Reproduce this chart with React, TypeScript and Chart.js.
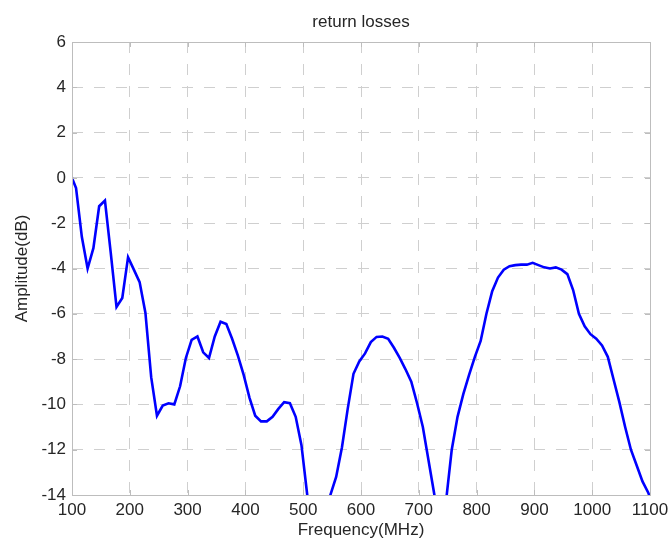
import React, { useEffect, useRef } from "react";
import { Chart, registerables } from "chart.js";

Chart.register(...registerables);

// Sweep frequencies (MHz) and measured return loss (dB)
const frequencies = [
  100, 107, 117, 127, 137, 147, 157, 167, 177, 187, 197, 207, 217, 227, 237, 247, 257, 267, 277, 287,
  297, 307, 317, 327, 337, 347, 357, 367, 377, 387, 397, 407, 417, 427, 437, 447, 457, 467, 477, 487,
  497, 507, 517, 527, 537, 547, 557, 567, 577, 587, 597, 607, 617, 627, 637, 647, 657, 667, 677, 687,
  697, 707, 717, 727, 737, 747, 757, 767, 777, 787, 797, 807, 817, 827, 837, 847, 857, 867, 877, 887,
  897, 907, 917, 927, 937, 947, 957, 967, 977, 987, 997, 1007, 1017, 1027, 1037, 1047, 1057, 1067, 1077, 1087,
  1097, 1100,
];

const amplitude = [
  0, -0.45, -2.6, -4.0, -3.1, -1.25, -1.0, -3.3, -5.7, -5.3,
  -3.5, -4.05, -4.6, -5.95, -8.8, -10.5, -10.05, -9.95, -10.0, -9.2,
  -7.95, -7.15, -7.0, -7.7, -7.95, -7.0, -6.35, -6.45, -7.1, -7.85,
  -8.7, -9.7, -10.5, -10.75, -10.75, -10.55, -10.2, -9.9, -9.95, -10.55,
  -11.8, -14.0, -16.0, -17.0, -15.5, -14.0, -13.2, -11.9, -10.2, -8.65,
  -8.1, -7.75, -7.25, -7.02, -7.0, -7.1, -7.5, -7.95, -8.45, -9.0,
  -9.95, -11.0, -12.5, -14.0, -16.0, -14.3, -12.0, -10.55, -9.55, -8.7,
  -7.9, -7.2, -6.0, -5.0, -4.4, -4.05, -3.9, -3.85, -3.83, -3.83,
  -3.75, -3.85, -3.95, -4.0, -3.95, -4.05, -4.25, -4.95, -6.0, -6.55,
  -6.9, -7.1, -7.4, -7.9, -8.9, -9.9, -11.0, -12.0, -12.7, -13.4,
  -13.9, -14.1,
];

const xTicks = [100, 200, 300, 400, 500, 600, 700, 800, 900, 1000, 1100];
const yTicks = [6, 4, 2, 0, -2, -4, -6, -8, -10, -12, -14];

const chartTitle = "return losses";
const xTitle = "Frequency(MHz)";
const yTitle = "Amplitude(dB)";

const FONT = "'Liberation Sans', Arial, sans-serif";
const TEXT_COLOR = "#262626";
const BOX_COLOR = "#bdbdbd";

// Box around the plot, small inward ticks, and the title/axis labels
const framePlugin = {
  id: "frame",
  afterDatasetsDraw(chart: any) {
    const { ctx, chartArea, scales } = chart;
    const { left, right, top, bottom } = chartArea;
    ctx.save();
    ctx.strokeStyle = BOX_COLOR;
    ctx.lineWidth = 1;
    ctx.setLineDash([]);
    const tl = 5;
    ctx.beginPath();
    xTicks.forEach((v) => {
      const x = Math.round(scales.x.getPixelForValue(v)) + 0.5;
      ctx.moveTo(x, bottom);
      ctx.lineTo(x, bottom - tl);
      ctx.moveTo(x, top);
      ctx.lineTo(x, top + tl);
    });
    yTicks.forEach((v) => {
      const y = Math.round(scales.y.getPixelForValue(v)) + 0.5;
      ctx.moveTo(left, y);
      ctx.lineTo(left + tl, y);
      ctx.moveTo(right, y);
      ctx.lineTo(right - tl, y);
    });
    ctx.stroke();
    ctx.strokeRect(Math.round(left) + 0.5, Math.round(top) + 0.5, Math.round(right - left), Math.round(bottom - top));

    ctx.fillStyle = TEXT_COLOR;
    ctx.font = `17px ${FONT}`;
    ctx.textAlign = "center";
    ctx.textBaseline = "middle";
    ctx.fillText(chartTitle, (left + right) / 2, 22);
    ctx.fillText(xTitle, (left + right) / 2, 530);
    ctx.translate(22, (top + bottom) / 2);
    ctx.rotate(-Math.PI / 2);
    ctx.fillText(yTitle, 0, 0);
    ctx.restore();
  },
};

export default function App() {
  const canvasRef = useRef<HTMLCanvasElement | null>(null);

  useEffect(() => {
    const canvas = canvasRef.current;
    if (!canvas) return;
    const points = frequencies.map((f, i) => ({ x: f, y: amplitude[i] }));
    const gridCommon = {
      color: "#cfcfcf",
      lineWidth: 1,
      drawTicks: false,
      tickLength: 0,
    };
    const chart = new Chart(canvas, {
      type: "line",
      data: {
        datasets: [
          {
            data: points,
            borderColor: "#0000ff",
            borderWidth: 2.6,
            pointRadius: 0,
            tension: 0,
            fill: false,
          },
        ],
      },
      options: {
        animation: false,
        responsive: false,
        devicePixelRatio: 1,
        layout: { padding: { left: 0, right: 22, top: 42, bottom: 0 } },
        plugins: {
          legend: { display: false },
          title: { display: false },
          tooltip: { enabled: false },
        },
        scales: {
          x: {
            type: "linear",
            min: 100,
            max: 1100,
            afterFit: (s: any) => {
              s.height = 48;
              s.paddingLeft = 0;
              s.paddingRight = 0;
            },
            afterBuildTicks: (s: any) => {
              s.ticks = xTicks.map((v) => ({ value: v }));
            },
            grid: gridCommon,
            border: { display: false, dash: [11, 11] },
            ticks: {
              color: TEXT_COLOR,
              font: { family: FONT, size: 17 },
              padding: 5,
              maxRotation: 0,
              autoSkip: false,
              callback: (v: any) => String(v),
            },
          },
          y: {
            type: "linear",
            min: -14,
            max: 6,
            afterFit: (s: any) => {
              s.width = 72;
              s.paddingTop = 0;
              s.paddingBottom = 0;
            },
            afterBuildTicks: (s: any) => {
              s.ticks = yTicks.map((v) => ({ value: v }));
            },
            grid: gridCommon,
            border: { display: false, dash: [11, 11] },
            ticks: {
              color: TEXT_COLOR,
              font: { family: FONT, size: 17 },
              padding: 6,
              autoSkip: false,
              callback: (v: any) => String(v),
            },
          },
        },
      },
      plugins: [framePlugin],
    } as any);
    return () => chart.destroy();
  }, []);

  return (
    <div style={{ position: "absolute", left: 0, top: 0, width: 672, height: 543, background: "#fff" }}>
      <canvas ref={canvasRef} width={672} height={543} />
    </div>
  );
}
